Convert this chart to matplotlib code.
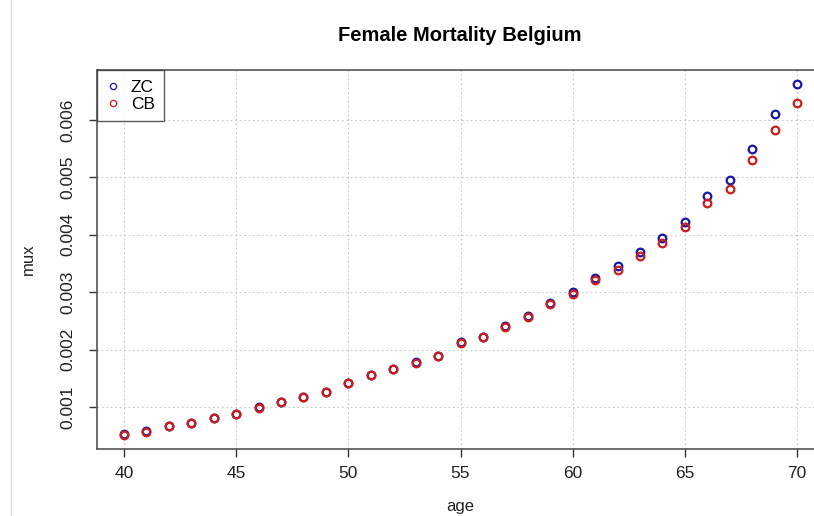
import matplotlib
matplotlib.use("Agg")
import matplotlib.pyplot as plt
from matplotlib.lines import Line2D

plt.rcParams['font.family'] = ['Liberation Sans', 'DejaVu Sans']

ages = list(range(40, 71))
zc = [0.000525, 0.000575, 0.000675, 0.000725, 0.000815, 0.000885, 0.000995, 0.001085,
      0.001175, 0.001265, 0.001415, 0.001555, 0.001665, 0.001775, 0.001895, 0.002125,
      0.002225, 0.00241, 0.00258, 0.00281, 0.00301, 0.00325, 0.00346, 0.00370,
      0.00394, 0.00423, 0.00468, 0.00495, 0.00549, 0.00610, 0.00662]
cb = [0.00052, 0.00057, 0.00067, 0.00072, 0.00081, 0.00088, 0.00099, 0.00108,
      0.00117, 0.00126, 0.00141, 0.00155, 0.00166, 0.00177, 0.00189, 0.00212,
      0.00222, 0.00240, 0.00257, 0.00279, 0.00296, 0.00322, 0.00339, 0.00363,
      0.00385, 0.00414, 0.00455, 0.00480, 0.00530, 0.00582, 0.00630]
series_names = ["ZC", "CB"]
x_ticks = [40, 45, 50, 55, 60, 65, 70]
y_ticks = [0.001, 0.002, 0.003, 0.004, 0.005, 0.006]
y_ticklabels = ["0.001", "0.002", "0.003", "0.004", "0.005", "0.006"]

blue = "#1818a8"
red = "#cc1c1c"
W, H = 814, 516
fig = plt.figure(figsize=(W / 100, H / 100), dpi=100)
ax = fig.add_axes([97 / W, 67 / H, 727 / W, 379 / H])

ax.set_xlim(38.8, 71.2)
ax.set_ylim(0.000268, 0.00687)

# grid
for t in x_ticks:
    ax.axvline(t, color="#c8c8c8", lw=0.8, ls=(0, (1.5, 2.5)), zorder=0)
for t in y_ticks:
    ax.axhline(t, color="#c8c8c8", lw=0.8, ls=(0, (1.5, 2.5)), zorder=0)

ms = 5.5
mew = 1.6
ax.plot(ages, zc, ls="none", marker="o", mfc="none", mec=blue, ms=ms, mew=mew, zorder=3)
ax.plot(ages, cb, ls="none", marker="o", mfc="none", mec=red, ms=ms, mew=mew, zorder=4)

ax.set_xticks(x_ticks)
ax.set_xticklabels([str(t) for t in x_ticks])
ax.set_yticks(y_ticks)
ax.set_yticklabels(y_ticklabels, rotation=90, va="center")
ax.tick_params(axis="both", direction="out", length=5.5, width=1.0, color="#333333",
               labelsize=12.5, labelcolor="#222222")
ax.tick_params(axis="x", pad=7)
ax.tick_params(axis="y", pad=10)
for s in ax.spines.values():
    s.set_color("#555555")
    s.set_linewidth(1.2)

ax.set_xlabel("age", fontsize=12, color="#222222", labelpad=13)
ax.set_ylabel("mux", fontsize=12, color="#222222", labelpad=18)
ax.set_title("Female Mortality Belgium", fontsize=14.5, fontweight="bold", pad=21,
             x=(460 - 97) / 727)

handles = [Line2D([], [], ls="none", marker="o", mfc="none", mec=blue, ms=4.5, mew=0.9),
           Line2D([], [], ls="none", marker="o", mfc="none", mec=red, ms=4.5, mew=0.9)]
leg = ax.legend(handles, series_names, loc="upper left", bbox_to_anchor=(0, 1),
                borderaxespad=0, fancybox=False, frameon=True, fontsize=12.5,
                handlelength=0.8, handletextpad=0.6, borderpad=0.55, labelspacing=0.1)
leg.get_frame().set_edgecolor("#333333")
leg.get_frame().set_linewidth(1.0)

fig.add_artist(Line2D([11 / W, 11 / W], [0, 1], color="#d8d8d8", lw=1.0))

fig.savefig("out.png", dpi=100)
